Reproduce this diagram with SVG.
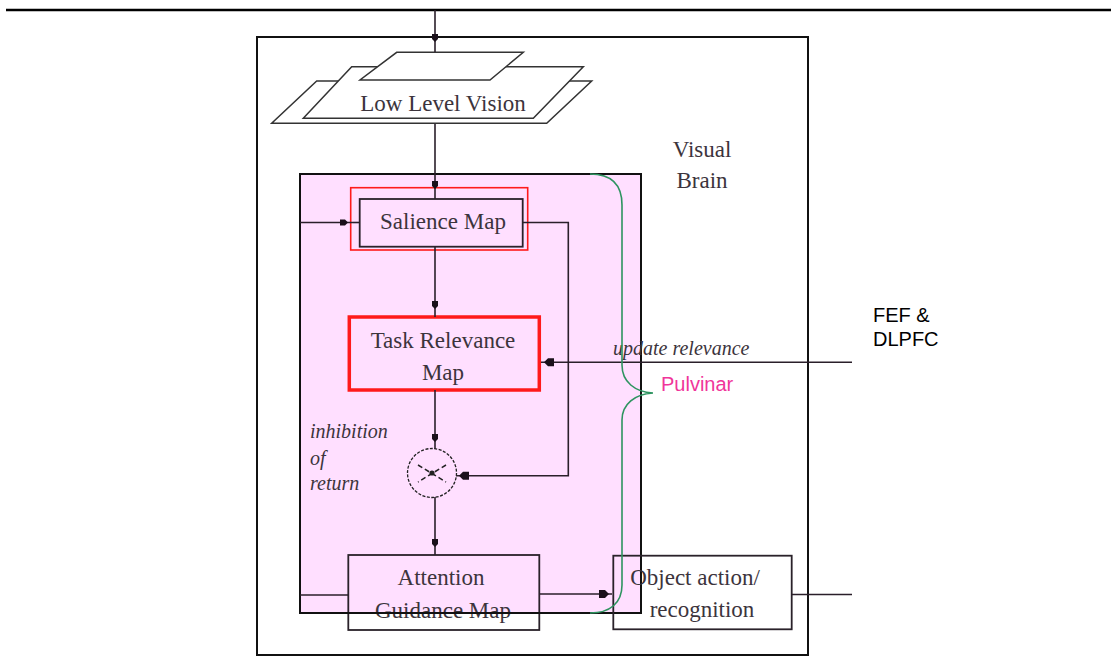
<svg xmlns="http://www.w3.org/2000/svg" width="1112" height="658" viewBox="0 0 1112 658">
<defs>
<style>
.serif{font-family:"Liberation Serif","Times New Roman",serif;fill:#3c343c;font-size:23px;text-anchor:middle}
.ital{font-family:"Liberation Serif","Times New Roman",serif;fill:#3c343c;font-size:20px;font-style:italic}
.sans{font-family:"Liberation Sans",Arial,sans-serif;font-size:20px}
.ln{fill:none;stroke:#2a1f2a;stroke-width:1.6}
.box{fill:none;stroke:#2a222a;stroke-width:1.8}
.plane{fill:#fff;stroke:#333;stroke-width:1.5}
</style>
<marker id="ah" markerWidth="14" markerHeight="10" viewBox="-14 -5 14 10" refX="0" refY="0" orient="auto" markerUnits="userSpaceOnUse">
<path d="M-13,-3 L-8,-3 L-5,0 L-8,3 L-13,3 Z" fill="#1a101a"/>
</marker>
<marker id="ahb" markerWidth="16" markerHeight="12" viewBox="-16 -6 16 12" refX="0" refY="0" orient="auto" markerUnits="userSpaceOnUse">
<path d="M-13,-4 L-7,-4 L-3,0 L-7,4 L-13,4 Z" fill="#1a101a"/>
</marker>
</defs>
<rect width="1112" height="658" fill="#fff"/>
<g id="top-line"><line x1="6" y1="10" x2="1111" y2="10" stroke="#000" stroke-width="2.5"/></g>
<g id="visual-brain">
<rect x="257" y="37" width="551" height="618" fill="none" stroke="#111" stroke-width="2"/>
<text class="serif" x="702" y="157">Visual</text>
<text class="serif" x="702" y="188">Brain</text>
</g>
<g id="pulvinar-area">
<rect x="300" y="174" width="341" height="439" fill="#ffdfff" stroke="#111" stroke-width="2"/>
</g>
<g id="low-level-vision">
<polygon class="plane" points="316.7,81 591.7,81 546.7,123.3 271.7,123.3"/>
<polygon class="plane" points="351.7,66.7 583.3,66.7 533.3,118.3 303.3,118.3"/>
<polygon class="plane" points="396.7,52.3 523.3,52.3 490,80 360,80"/>
<text class="serif" x="443" y="111" font-size="24">Low Level Vision</text>
</g>
<g id="salience-map">
<rect x="350.7" y="187.7" width="177" height="62.3" fill="none" stroke="#ff1a1a" stroke-width="1.6"/>
<rect x="359.7" y="199" width="163" height="47.7" class="box" stroke-width="2.2"/>
<text class="serif" x="443" y="229">Salience Map</text>
</g>
<g id="task-relevance-map">
<rect x="349.3" y="317" width="190" height="73" fill="none" stroke="#ff1a1a" stroke-width="3.5"/>
<text class="serif" x="443" y="348">Task Relevance</text>
<text class="serif" x="443" y="380">Map</text>
</g>
<g id="multiplier">
<circle cx="432" cy="473" r="24.5" fill="none" stroke="#222" stroke-width="1.3" stroke-dasharray="3 1.5"/>
<line x1="418" y1="465" x2="446" y2="482" stroke="#222" stroke-width="1.5" stroke-dasharray="5 3"/>
<line x1="446" y1="465" x2="418" y2="482" stroke="#222" stroke-width="1.5" stroke-dasharray="5 3"/>
<circle cx="432" cy="473" r="2.6" fill="#222"/>
</g>
<g id="attention-guidance-map">
<rect x="348.3" y="555" width="191" height="75" class="box"/>
<text class="serif" x="441" y="585">Attention</text>
<text class="serif" x="443" y="618">Guidance Map</text>
</g>
<line x1="300" y1="613" x2="641" y2="613" stroke="#111" stroke-width="2"/>
<g id="object-action">
<rect x="613.3" y="555.7" width="178.4" height="73.6" class="box"/>
<text class="serif" x="695" y="585">Object action/</text>
<text class="serif" x="702" y="617">recognition</text>
</g>
<g id="connectors">
<path class="ln" d="M435,10 V47" marker-end="url(#ah)"/>
<path class="ln" d="M435,47 V52"/>
<path class="ln" d="M435,124 V194" marker-end="url(#ah)"/>
<path class="ln" d="M435,194 V199"/>
<path class="ln" d="M300,222.5 H353" marker-end="url(#ah)"/>
<path class="ln" d="M353,222.5 H359.7"/>
<path class="ln" d="M523,222.5 H568.3 V475.7 H456" marker-end="url(#ahb)"/>
<path class="ln" d="M435,247 V314" marker-end="url(#ah)"/>
<path class="ln" d="M435,314 V317"/>
<path class="ln" d="M852,362.3 H541" marker-end="url(#ahb)" stroke-width="1.8"/>
<path class="ln" d="M435,390 V447" marker-end="url(#ah)"/>
<path class="ln" d="M435,447 V449"/>
<path class="ln" d="M435,497 V552" marker-end="url(#ah)"/>
<path class="ln" d="M435,552 V555"/>
<path class="ln" d="M348.3,595 H300"/>
<path class="ln" d="M539.3,594 H612" marker-end="url(#ahb)"/>
<path class="ln" d="M791.7,594.5 H852"/>
</g>
<g id="labels">
<text class="ital" x="613" y="355">update relevance</text>
<text class="ital" x="310" y="438">inhibition</text>
<text class="ital" x="310" y="465">of</text>
<text class="ital" x="310" y="490">return</text>
</g>
<g id="pulvinar-brace">
<path d="M590,174 C612,174 622,185 622,205 L622,365 C622,382 635,392 653,393 C635,394 622,404 622,420 L622,585 C622,603 610,613 590,613" fill="none" stroke="#2e9460" stroke-width="1.6"/>
<text class="sans" x="661" y="391" fill="#f0359a" font-size="21">Pulvinar</text>
</g>
<g id="fef-dlpfc">
<text class="sans" x="873" y="322" fill="#000">FEF &amp;</text>
<text class="sans" x="873" y="346" fill="#000">DLPFC</text>
</g>
</svg>
